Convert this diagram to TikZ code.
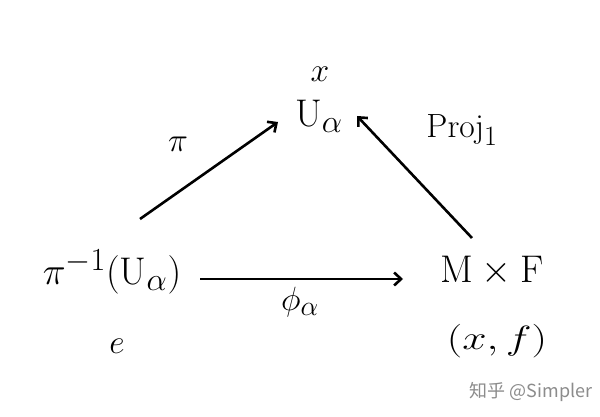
\documentclass[tikz,border=0pt]{standalone}
\usepackage{fontspec}
\newfontfamily\cjk{Noto Sans CJK SC}
\usetikzlibrary{arrows.meta}
\begin{document}
\begin{tikzpicture}[x=1pt,y=-1pt,
  lab/.style={inner sep=0pt, font=\fontsize{24.88}{28}\selectfont, scale=1.55, transform shape},
  small/.style={inner sep=0pt, font=\fontsize{24.88}{28}\selectfont, scale=1.35, transform shape},
  arr/.style={line width=2.6pt, -{Straight Barb[length=7pt,width=13pt,line width=2.6pt]}}]
\useasboundingbox[fill=white] (0,0) rectangle (600,417);
\node[small] (xt) at (320,74) {$x$};
\node[lab] (T) at (319,116) {$\mathrm{U}_\alpha$};
\node[lab] (L) at (112,272) {$\pi^{-1}(\mathrm{U}_\alpha)$};
\node[lab] (R) at (492,271) {$\mathrm{M}\times \mathrm{F}$};
\node[small] (e) at (117,346) {$e$};
\node[small, xscale=1.3] (xf) at (497,341) {$(x,f)$};
\node[small] (pi) at (178,144) {$\pi$};
\node[small] (proj) at (462,130) {$\mathrm{Proj}_1$};
\node[small] (phi) at (300,302) {$\phi_\alpha$};
\coordinate (a1s) at (140,219);
\coordinate (a1e) at (278,122);
\coordinate (a2s) at (472,238);
\coordinate (a2e) at (357,116);
\coordinate (a3s) at (200,279);
\coordinate (a3e) at (403,279);
\draw[arr] (a1s) -- (a1e);
\draw[arr] (a2s) -- (a2e);
\draw[arr] (a3s) -- (a3e);
\node[inner sep=0pt, text=black!45, font=\cjk\fontsize{18}{20}\selectfont] (wm) at (531,392) {知乎 @Simpler};
\end{tikzpicture}
\end{document}
